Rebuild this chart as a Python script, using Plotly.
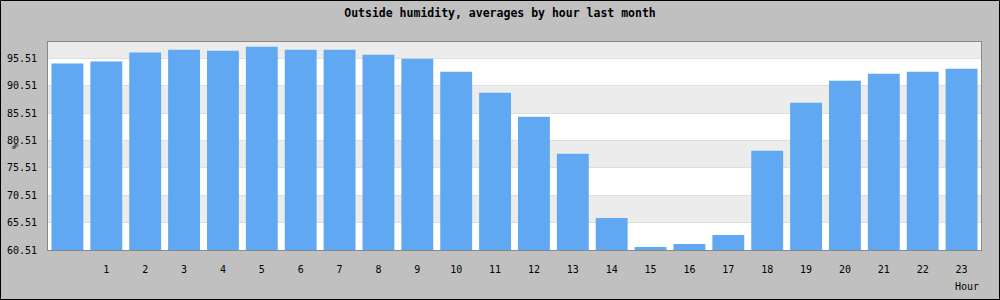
import plotly.graph_objects as go

hours = list(range(24))
humidity = [94.59, 94.96, 96.60, 97.10, 96.92, 97.65, 97.10, 97.10, 96.19, 95.46,
            93.07, 89.23, 84.84, 78.07, 66.36, 61.06, 61.61, 63.25, 78.62, 87.40,
            91.43, 92.71, 93.07, 93.62]
x_labels = [""] + [str(h) for h in range(1, 24)]
y_ticks = [60.51, 65.51, 70.51, 75.51, 80.51, 85.51, 90.51, 95.51]
y_top = 98.5
title = "Outside humidity, averages by hour last month"

W, H = 1000, 300
ml, mr, mt, mb = 48, 19, 42, 50
pw, ph = W - ml - mr, H - mt - mb

fig = go.Figure(go.Bar(x=hours, y=humidity, marker=dict(color="#60a8f2", line=dict(width=0)),
                       width=0.82))

shapes = []
bounds = y_ticks + [y_top]
for i in range(len(bounds) - 1):
    if i % 2 == 1:
        shapes.append(dict(type="rect", xref="paper", yref="y", x0=0, x1=1,
                           y0=bounds[i], y1=bounds[i + 1], fillcolor="#ececec",
                           line=dict(width=0), layer="below"))
# outer black frame
shapes.append(dict(type="rect", xref="paper", yref="paper",
                   x0=(0.5 - ml) / pw, x1=(W - 0.5 - ml) / pw,
                   y0=-(mb - 0.5) / ph, y1=1 + (mt - 0.5) / ph,
                   line=dict(color="black", width=1), fillcolor="rgba(0,0,0,0)"))

mono = "DejaVu Sans Mono"
fig.update_layout(
    width=W, height=H,
    margin=dict(l=ml, r=mr, t=mt, b=mb, autoexpand=False),
    paper_bgcolor="#c0c0c0", plot_bgcolor="white",
    showlegend=False, bargap=0.18,
    shapes=shapes,
    title=dict(text="<b>" + title + "</b>", x=0.5, xref="container", xanchor="center",
               y=1 - 13 / H, yref="container", yanchor="middle", automargin=False,
               font=dict(family=mono, size=11.5, color="black")),
    font=dict(family=mono, size=10, color="black"),
    xaxis=dict(range=[-0.5, 23.5], tickvals=hours, ticktext=x_labels, showgrid=False,
               zeroline=False, showline=True, linecolor="#888888", linewidth=1, mirror=True,
               ticks="", ticklabelstandoff=10, automargin=False,
               tickfont=dict(family=mono, size=10)),
    yaxis=dict(range=[y_ticks[0], y_top], tickvals=y_ticks,
               ticktext=["%.2f" % v for v in y_ticks], showgrid=True,
               gridcolor="#dedede", gridwidth=1, zeroline=False, showline=True,
               linecolor="#888888", linewidth=1, mirror=True, ticks="",
               ticklabelstandoff=8, automargin=False,
               tickfont=dict(family=mono, size=10)),
    annotations=[
        dict(text="Hour", xref="paper", yref="paper", x=(967 - ml) / pw, y=-(286 - mt - ph) / ph,
             xanchor="center", yanchor="middle", showarrow=False,
             font=dict(family=mono, size=10, color="black")),
        dict(text="%", xref="paper", yref="paper", x=(15 - ml) / pw, y=1 - (146 - mt) / ph,
             xanchor="center", yanchor="middle", showarrow=False, textangle=-90,
             font=dict(family=mono, size=9, color="black")),
    ],
)

fig.write_html("out.html")
